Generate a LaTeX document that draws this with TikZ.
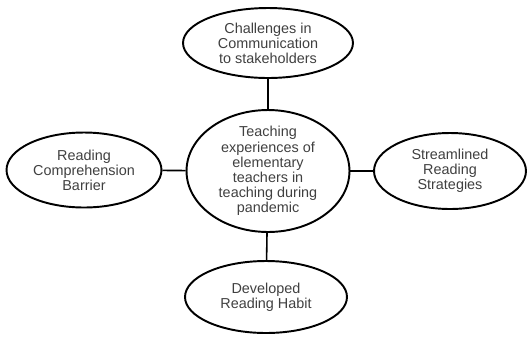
\documentclass[tikz,border=0pt]{standalone}
\usepackage{fontspec}
\setmainfont{Liberation Sans}
\usetikzlibrary{shapes.geometric}

\begin{document}
\begin{tikzpicture}[x=0.02cm, y=-0.02cm,
    theme/.style={ellipse, draw, line width=1.1pt, inner sep=0pt, align=center,
      font=\fontsize{8.2}{8.6}\selectfont, text=black!75},
    link/.style={line width=0.9pt}]
    \useasboundingbox (0,0) rectangle (528,336);
			% central theme and sub-themes
			\node[theme, inner ysep=-1.5pt, minimum width=3.26cm, minimum height=2.44cm] (C) at (268,171) {Teaching\\experiences of\\elementary\\teachers in\\teaching during\\pandemic};
			\node[theme, minimum width=3.4cm, minimum height=1.4cm] (T) at (268,43) {Challenges in\\Communication\\to stakeholders};
			\node[theme, minimum width=3.1cm, minimum height=1.5cm] (L) at (84,170) {Reading\\Comprehension\\Barrier};
			\node[theme, minimum width=3.04cm, minimum height=1.52cm] (R) at (450,171) {Streamlined\\Reading\\Strategies};
			\node[theme, minimum width=3.24cm, minimum height=1.44cm] (B) at (266,297) {Developed\\Reading Habit};
			
			\draw[link] (T) -- (C);
			\draw[link] (L) -- (C);
			\draw[link] (C) -- (R);
			\draw[link] (C) -- (B);
	\end{tikzpicture}
\end{document}
